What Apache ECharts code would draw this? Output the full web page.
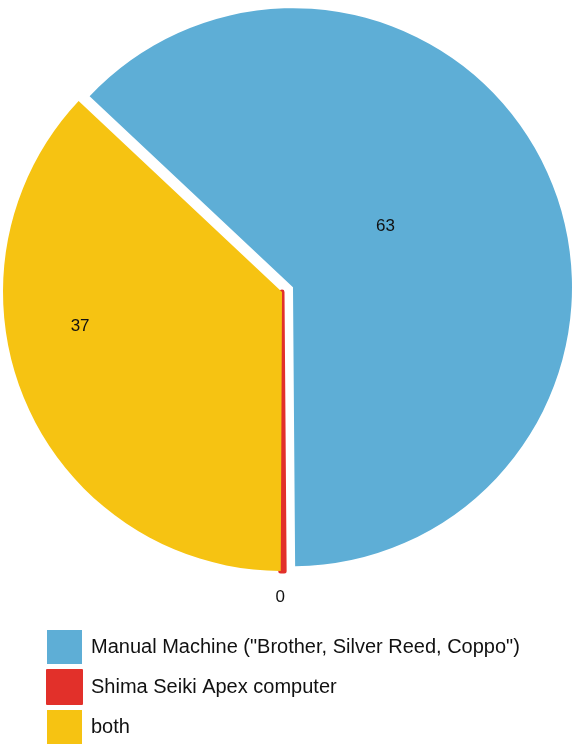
<!DOCTYPE html>
<html>
<head>
<meta charset="utf-8">
<script src="https://cdn.jsdelivr.net/npm/echarts@6/dist/echarts.min.js"></script>
<style>
html,body{margin:0;padding:0;background:#fff;}
#chart{width:575px;height:744px;}
</style>
</head>
<body>
<div id="chart"></div>
<script>
const categories = ['Manual Machine ("Brother, Silver Reed, Coppo")', 'Shima Seiki Apex computer', 'both'];
const values = [63, 0, 37];
const colors = ['#5eaed6', '#e2302a', '#f6c312'];

const chart = echarts.init(document.getElementById('chart'), null, {renderer: 'canvas'});

const labelOffsets = [[-38, -4], [-12, 20], [-71, -22]];
const labelPositions = ['inside', 'outside', 'inside'];

const data = categories.map((name, i) => ({
  name: name,
  value: values[i],
  selected: i === 0,
  itemStyle: i === 1 ? {color: colors[i], borderColor: colors[i], borderWidth: 5} : {color: colors[i]},
  label: {show: true, position: labelPositions[i], offset: labelOffsets[i]},
  select: {label: {offset: labelOffsets[i]}, itemStyle: {color: colors[i]}},
  labelLine: {show: false, length: 6, length2: 0}
}));

chart.setOption({
  animation: false,
  backgroundColor: '#ffffff',
  color: colors,
  legend: {
    orient: 'vertical',
    left: 46,
    top: 630,
    padding: 0,
    height: 114,
    icon: 'rect',
    itemWidth: 35,
    itemHeight: 34,
    itemGap: 5,
    selectedMode: false,
    textStyle: {fontFamily: 'Liberation Sans, Arial, sans-serif', fontSize: 20, color: '#111', padding: [0, 0, 0, 4]},
    data: categories
  },
  series: [{
    type: 'pie',
    center: [282, 292],
    radius: [0, 279],
    startAngle: 136.8,
    clockwise: true,
    minAngle: 0.7,
    selectedMode: 'single',
    selectedOffset: 12,
    avoidLabelOverlap: false,
    emphasis: {disabled: true},
    label: {
      color: '#111',
      fontFamily: 'Liberation Sans, Arial, sans-serif',
      fontSize: 17,
      formatter: '{c}'
    },
    data: data
  }]
});
</script>
</body>
</html>
